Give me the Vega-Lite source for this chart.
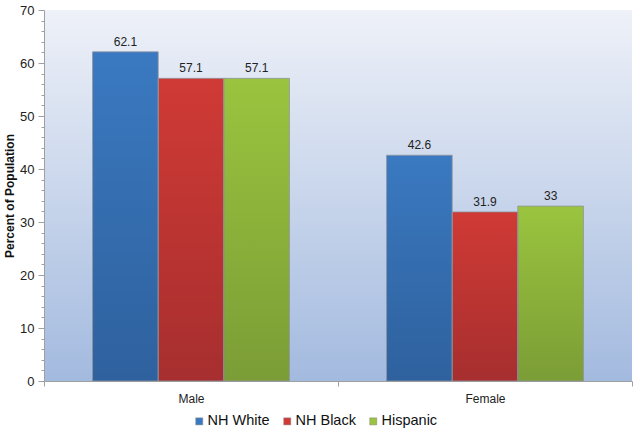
{
  "$schema": "https://vega.github.io/schema/vega-lite/v6.json",
  "width": 588,
  "height": 371,
  "autosize": {"type": "none"},
  "padding": {"left": 44, "top": 10, "right": 9, "bottom": 53},
  "background": "#ffffff",
  "config": {
    "font": "Liberation Sans",
    "view": {
      "stroke": null,
      "fill": {
        "gradient": "linear",
        "x1": 0, "y1": 0, "x2": 0, "y2": 1,
        "stops": [
          {"offset": 0, "color": "#eef1f8"},
          {"offset": 1, "color": "#a3badf"}
        ]
      }
    }
  },
  "data": {
    "values": [
      {"sex": "Male", "group": "NH White", "pct": 62.1},
      {"sex": "Male", "group": "NH Black", "pct": 57.1},
      {"sex": "Male", "group": "Hispanic", "pct": 57.1},
      {"sex": "Female", "group": "NH White", "pct": 42.6},
      {"sex": "Female", "group": "NH Black", "pct": 31.9},
      {"sex": "Female", "group": "Hispanic", "pct": 33}
    ]
  },
  "encoding": {
    "x": {
      "field": "sex",
      "type": "nominal",
      "sort": ["Male", "Female"],
      "title": null,
      "scale": {"paddingInner": 0, "paddingOuter": 0},
      "axis": {
        "labelAngle": 0,
        "labelFontSize": 12,
        "labelColor": "#222222",
        "labelPadding": 7,
        "domainColor": "#a0a0a0",
        "tickColor": "#a0a0a0",
        "tickBand": "extent",
        "tickSize": 5
      }
    },
    "xOffset": {
      "field": "group",
      "type": "nominal",
      "sort": ["NH White", "NH Black", "Hispanic"],
      "scale": {"paddingInner": 0, "paddingOuter": 0.74}
    },
    "y": {
      "field": "pct",
      "type": "quantitative",
      "title": "Percent of Population",
      "scale": {"domain": [0, 70]},
      "axis": {
        "values": [0, 2, 4, 6, 8, 10, 12, 14, 16, 18, 20, 22, 24, 26, 28, 30, 32, 34, 36, 38, 40, 42, 44, 46, 48, 50, 52, 54, 56, 58, 60, 62, 64, 66, 68, 70],
        "labelExpr": "datum.value % 10 === 0 ? datum.label : ''",
        "tickSize": {"condition": {"test": "datum.value % 10 === 0", "value": 6}, "value": 3},
        "grid": false,
        "domainColor": "#a0a0a0",
        "tickColor": "#a0a0a0",
        "labelFontSize": 13,
        "labelColor": "#222222",
        "labelPadding": 4,
        "titleFontSize": 12,
        "titleFontWeight": "bold",
        "titleColor": "#111111",
        "titlePadding": 3
      }
    }
  },
  "layer": [
    {
      "mark": {"type": "bar"},
      "encoding": {
        "color": {
          "field": "group",
          "type": "nominal",
          "sort": ["NH White", "NH Black", "Hispanic"],
          "title": null,
          "scale": {
            "domain": ["NH White", "NH Black", "Hispanic"],
            "range": ["#3a79c1", "#d03a36", "#9ac43f"]
          },
          "legend": {
            "orient": "none",
            "direction": "horizontal",
            "legendX": 148,
            "legendY": 404,
            "symbolType": "square",
            "symbolSize": 50,
            "symbolStrokeColor": "#888888",
            "symbolStrokeWidth": 0.5,
            "labelFontSize": 14.5,
            "labelColor": "#111111",
            "columnPadding": 10,
            "labelOffset": 1
          }
        }
      }
    },
    {
      "mark": {
        "type": "bar",
        "stroke": "#8f949c",
        "strokeWidth": 0.8,
        "fill": {
          "gradient": "linear",
          "x1": 0, "y1": 0, "x2": 0, "y2": 1,
          "stops": [
            {"offset": 0, "color": "rgba(0,0,0,0)"},
            {"offset": 1, "color": "rgba(0,0,20,0.2)"}
          ]
        }
      },
      "encoding": {}
    },
    {
      "mark": {"type": "text", "dy": -10, "fontSize": 12, "color": "#222222"},
      "encoding": {
        "text": {"field": "pct", "type": "quantitative"}
      }
    }
  ]
}
